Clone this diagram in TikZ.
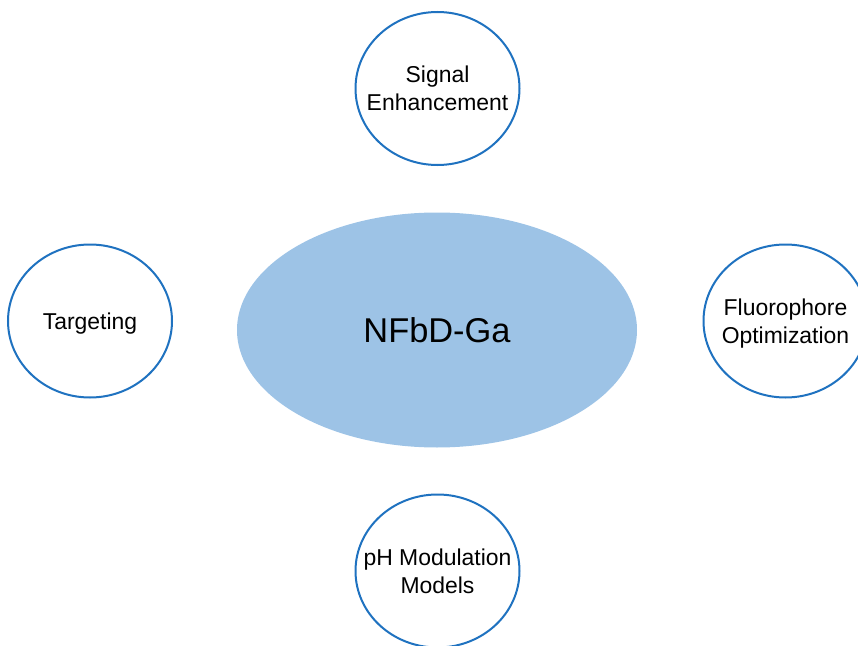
\documentclass[tikz,border=0pt]{standalone}
\usepackage{fontspec}
\setmainfont{Liberation Sans}
\usetikzlibrary{shapes.geometric}
\definecolor{hub_fill}{HTML}{9DC3E6}
\definecolor{ring_blue}{HTML}{1F72C0}
\tikzset{
  hub/.style={ellipse, fill=hub_fill, draw=none, inner sep=0pt,
              minimum width=400*0.75pt, minimum height=235*0.75pt,
              font=\fontsize{25.8}{30}\selectfont},
  topic/.style={ellipse, draw=ring_blue, fill=white, line width=1.5pt,
                inner xsep=-22pt, inner ysep=0pt, text depth=0pt,
                minimum width=164*0.75pt, minimum height=153*0.75pt,
                align=center, font=\fontsize{17.2}{21}\selectfont},
}
\begin{document}
\begin{tikzpicture}[x=0.75pt, y=-0.75pt]

  % --- page ----------------------------------------------------------------
  \useasboundingbox (0,0) rectangle (858,646);
  \clip (0,0) rectangle (858,646);

  % --- centre --------------------------------------------------------------
  \node[hub] (core) at (437,330) {NFbD-Ga};

  % --- surrounding topics --------------------------------------------------
  \node[topic] (signal)    at (437.5,88.5)  {Signal\\Enhancement};
  \node[topic] (targeting) at (90,321)      {Targeting};
  \node[topic] (fluoro)    at (785.5,321)   {Fluorophore\\Optimization};
  \node[topic] (ph)        at (437.5,571)   {pH Modulation\\Models};

\end{tikzpicture}
\end{document}
